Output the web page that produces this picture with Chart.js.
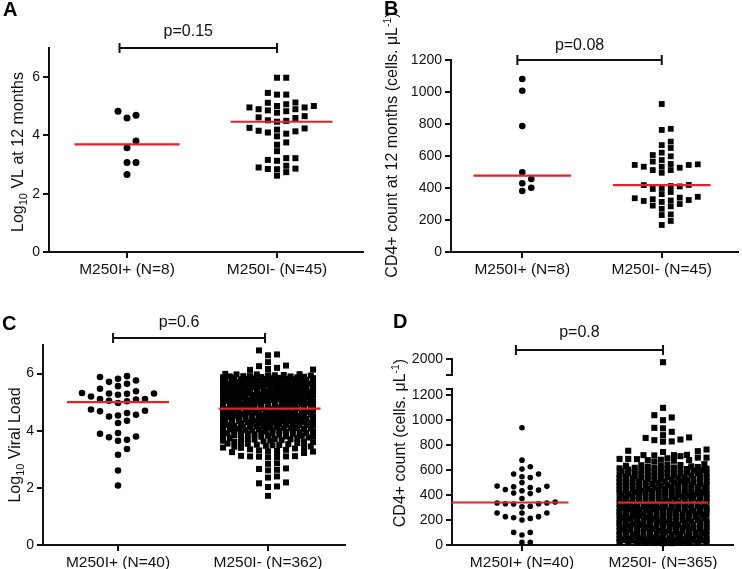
<!DOCTYPE html>
<html><head><meta charset="utf-8">
<script src="https://cdn.jsdelivr.net/npm/chart.js@4"></script>
<style>
html,body{margin:0;padding:0;background:#fff;}
#wrap{position:relative;width:742px;height:569px;overflow:hidden;background:#fff;}
canvas{position:absolute;}
</style></head><body>
<div id="wrap">
<canvas id="cA" width="371" height="285" style="left:0px;top:0px;width:371px;height:285px"></canvas>
<canvas id="cB" width="371" height="285" style="left:371px;top:0px;width:371px;height:285px"></canvas>
<canvas id="cC" width="371" height="284" style="left:0px;top:285px;width:371px;height:284px"></canvas>
<canvas id="cD" width="371" height="284" style="left:371px;top:285px;width:371px;height:284px"></canvas>
</div>
<script>
// ---------------- DATA ----------------
const catsA = ['M250I+ (N=8)', 'M250I- (N=45)'];
const catsB = ['M250I+ (N=8)', 'M250I- (N=45)'];
const catsC = ['M250I+ (N=40)', 'M250I- (N=362)'];
const catsD = ['M250I+ (N=40)', 'M250I- (N=365)'];

const pvalA = 'p=0.15', pvalB = 'p=0.08', pvalC = 'p=0.6', pvalD = 'p=0.8';

const yTicksA = [0, 2, 4, 6];
const yTicksB = [0, 200, 400, 600, 800, 1000, 1200];
const yTicksC = [0, 2, 4, 6];
const yTicksDLow = [0, 200, 400, 600, 800, 1000, 1200];
const yTicksDHigh = [2000];

// A: Log10 VL at 12 months
const vlPosA = [4.83, 4.69, 4.60, 3.81, 3.58, 3.07, 3.07, 2.66];
const vlNegA = [5.98, 5.98, 5.40, 5.46, 5.40, 5.12, 5.13, 5.07, 5.01, 4.96, 4.90,
  4.78, 4.83, 4.86, 4.90, 4.96, 5.01, 4.66, 4.60, 4.52, 4.47, 4.50, 4.62,
  4.24, 4.16, 4.10, 4.06, 4.14, 4.20, 4.26, 3.97, 3.76, 3.68, 3.46,
  3.22, 3.13, 3.16, 3.22, 2.90, 2.85, 2.96, 2.84, 2.86, 2.62, 2.74];

// B: CD4+ count at 12 months
const cd4PosB = [1081, 1008, 787, 498, 456, 429, 402, 381];
const cd4NegB = [925, 770, 763, 690, 668, 650, 621, 606, 575, 565, 598, 548, 544, 533, 527,
  544, 512, 495, 512, 533, 550, 418, 419, 412, 410, 400, 394, 375, 362, 340, 325, 313,
  319, 300, 345, 336, 330, 322, 290, 285, 270, 235, 231, 194, 169];

// C: Log10 viral load
const vlPosC = [5.88, 5.76, 5.82, 5.91, 5.56, 5.64, 5.71, 5.38, 5.47, 5.29, 5.20, 5.30, 5.30,
  5.32, 5.26, 5.11, 5.05, 5.03, 4.97, 5.09, 5.11, 4.74, 4.70, 4.62, 4.68, 4.56, 4.50, 4.53,
  4.27, 4.35, 3.92, 3.80, 3.68, 3.65, 3.77, 3.89, 3.36, 3.16, 2.61, 2.08];
const vlNegC = [
  6.81, 6.67, 6.64, 6.40, 6.28, 6.26, 6.20, 6.16, 6.14, 6.13,
  5.99, 5.98, 5.97, 5.97, 5.95, 5.94, 5.94, 5.93, 5.91, 5.91, 5.90, 5.90,
  5.89, 5.88, 5.87, 5.87, 5.86, 5.85, 5.84, 5.84, 5.83, 5.82, 5.82, 5.81, 5.80, 5.80,
  5.79, 5.78, 5.78, 5.77, 5.76, 5.75, 5.75, 5.74, 5.73, 5.72, 5.72, 5.71, 5.70, 5.70,
  5.69, 5.68, 5.68, 5.67, 5.66, 5.65, 5.65, 5.64, 5.63, 5.62, 5.62, 5.61, 5.60, 5.60,
  5.59, 5.58, 5.58, 5.57, 5.56, 5.56, 5.55, 5.54, 5.54, 5.53, 5.52, 5.52, 5.51, 5.50, 5.50,
  5.49, 5.48, 5.48, 5.47, 5.46, 5.46, 5.45, 5.44, 5.43, 5.43, 5.42, 5.41, 5.41, 5.40, 5.40,
  5.39, 5.38, 5.38, 5.37, 5.36, 5.35, 5.35, 5.34, 5.33, 5.33, 5.32, 5.31, 5.31, 5.30, 5.30,
  5.29, 5.28, 5.28, 5.27, 5.26, 5.26, 5.25, 5.24, 5.23, 5.23, 5.22, 5.21, 5.21, 5.20, 5.20,
  5.19, 5.18, 5.17, 5.17, 5.16, 5.15, 5.14, 5.14, 5.13, 5.12, 5.12, 5.11, 5.10, 5.10,
  5.09, 5.08, 5.08, 5.07, 5.06, 5.06, 5.05, 5.04, 5.03, 5.03, 5.02, 5.01, 5.01, 5.00, 5.00,
  4.99, 4.98, 4.97, 4.97, 4.96, 4.95, 4.94, 4.94, 4.93, 4.92, 4.91, 4.91, 4.90, 4.90,
  4.89, 4.88, 4.87, 4.86, 4.86, 4.85, 4.84, 4.83, 4.82, 4.81, 4.80, 4.80, 4.79, 4.78,
  4.77, 4.76, 4.76, 4.74, 4.73, 4.72, 4.72, 4.71, 4.70, 4.70,
  4.69, 4.68, 4.67, 4.67, 4.66, 4.65, 4.64, 4.63, 4.63, 4.62, 4.61, 4.61, 4.60, 4.60,
  4.59, 4.58, 4.57, 4.56, 4.56, 4.55, 4.54, 4.53, 4.53, 4.52, 4.51, 4.51, 4.50, 4.50,
  4.49, 4.48, 4.47, 4.47, 4.46, 4.45, 4.44, 4.43, 4.42, 4.42, 4.41, 4.41, 4.40, 4.40,
  4.39, 4.38, 4.37, 4.36, 4.36, 4.35, 4.34, 4.33, 4.32, 4.32, 4.31, 4.30, 4.30,
  4.29, 4.28, 4.27, 4.26, 4.26, 4.25, 4.24, 4.23, 4.22, 4.21, 4.21, 4.20, 4.20,
  4.19, 4.18, 4.17, 4.16, 4.15, 4.14, 4.14, 4.13, 4.12, 4.11, 4.10, 4.10,
  4.09, 4.08, 4.07, 4.06, 4.05, 4.04, 4.04, 4.03, 4.02, 4.01, 4.00, 4.00,
  3.99, 3.98, 3.97, 3.96, 3.95, 3.94, 3.93, 3.92, 3.91, 3.90, 3.90,
  3.89, 3.88, 3.86, 3.85, 3.84, 3.83, 3.82, 3.81, 3.80,
  3.79, 3.77, 3.76, 3.75, 3.74, 3.72, 3.71, 3.70,
  3.69, 3.67, 3.66, 3.65, 3.63, 3.62, 3.61, 3.60,
  3.58, 3.57, 3.55, 3.54, 3.53, 3.51, 3.50,
  3.49, 3.47, 3.45, 3.44, 3.43, 3.41, 3.40,
  3.38, 3.35, 3.33, 3.31, 3.29, 3.28, 3.27, 3.25, 3.22,
  3.12, 3.10, 3.09, 3.08, 3.10, 3.07, 3.11, 2.86, 2.84, 2.68, 2.66, 2.63, 2.61,
  2.40, 2.36, 2.19, 2.16, 2.05, 2.03, 1.72];

// D: CD4+ count
const cd4PosD = [939, 680, 627, 608, 568, 547, 541, 568, 501, 467, 445, 472, 435, 461, 470, 417,
  440, 412, 373, 345, 336, 328, 307, 330, 336, 310, 330, 256, 227, 213, 200, 218, 227, 256, 256,
  101, 80, 101, 22, 22];
const cd4NegD = [
  1960,
  1099, 1040, 1022, 1000, 939, 935, 907, 880, 862, 858, 845, 840, 830, 828,
  765, 755, 752, 745, 722, 720, 720, 718, 712,
  700, 700, 695, 690, 690, 688, 683, 680, 680, 675, 668,
  648, 644, 641, 639, 635, 633, 630, 628, 625, 621, 619, 617, 614, 611, 609, 606, 605, 603, 601, 600,
  598, 595, 594, 591, 588, 586, 583, 582, 579, 576, 575, 572, 569, 567, 566, 563, 560, 558, 556, 553, 552, 550,
  549, 546, 545, 542, 540, 538, 535, 534, 531, 530, 527, 524, 523, 520, 518, 516, 514, 511, 510, 507, 505, 504, 501, 500,
  499, 496, 495, 493, 490, 489, 486, 485, 482, 480, 479, 476, 475, 473, 470, 469, 466, 465, 462, 460, 459, 456, 455, 452, 450,
  449, 447, 444, 443, 441, 440, 437, 436, 434, 432, 431, 428, 427, 425, 423, 421, 420, 418, 416, 414, 413, 410, 409, 407, 405, 403, 401,
  400, 398, 395, 394, 392, 390, 387, 386, 384, 381, 380, 378, 375, 374, 372, 370, 367, 366, 364, 361, 360, 358, 355, 353, 351, 348, 346, 343, 341,
  339, 336, 335, 333, 330, 329, 326, 325, 322, 320, 319, 316, 315, 312, 310, 309, 306, 305, 303, 302, 301, 300,
  298, 297, 294, 293, 290, 289, 287, 285, 283, 281, 279, 277, 276, 274, 272, 270, 268, 267, 264, 263, 261, 259, 257, 256, 254, 252, 251, 250,
  248, 246, 244, 243, 240, 239, 237, 235, 233, 232, 229, 228, 226, 224, 222, 220, 219, 217, 215, 213, 211, 210, 208, 206, 204, 203, 201, 200,
  198, 196, 193, 192, 190, 188, 186, 185, 182, 180, 179, 177, 175, 173, 171, 170, 168, 165, 164, 162, 160, 158, 157, 155, 153, 151, 150,
  148, 145, 144, 141, 140, 138, 135, 134, 131, 130, 128, 126, 124, 122, 120, 118, 116, 113, 112, 110, 108, 106, 104, 102, 101, 100,
  98, 95, 93, 91, 88, 86, 85, 82, 80, 78, 75, 74, 71, 69, 67, 64, 63, 61, 58, 56, 55, 53, 51, 50,
  48, 47, 45, 44, 42, 41, 39, 38, 36, 35, 34, 32, 31, 30, 28, 27, 26, 25, 24, 22, 21, 20, 19, 18, 17, 16, 15, 14];

// ---------------- HELPERS ----------------
const FONT = '"Liberation Sans", Arial, Helvetica, sans-serif';
const RED = '#e2232a';

function median(arr) {
  const s = arr.slice().sort((a, b) => a - b);
  const n = s.length;
  return n % 2 ? s[(n - 1) / 2] : (s[n / 2 - 1] + s[n / 2]) / 2;
}

// beeswarm layout (pixel offsets) computed from the values via the chart's y scale
function swarmOffsets(vals, yScale, sp, h, maxK) {
  const n = vals.length;
  const idx = vals.map((v, i) => i).sort((a, b) => vals[a] - vals[b]);
  const full = [0];
  for (let k = 1; k <= maxK; k++) full.push(k, -k);
  const fine = [];
  for (let k = -maxK; k <= maxK + 1e-9; k += 0.25) fine.push(k);
  fine.sort((a, b) => Math.abs(a) - Math.abs(b));
  const placed = [];
  const off = new Array(n).fill(0);
  for (const i of idx) {
    const py = yScale.getPixelForValue(vals[i]);
    const near = [];
    for (let j = placed.length - 1; j >= 0; j--) {
      const p = placed[j];
      if (p.py - py >= h) break;
      near.push(p);
    }
    const free = c => {
      const px = c * sp;
      for (const p of near) {
        if (Math.abs(p.px - px) < sp * 0.999 && Math.abs(p.py - py) < h * 0.999) return false;
      }
      return true;
    };
    const overlap = c => {
      const px = c * sp; let s = 0;
      for (const p of near) {
        s += Math.max(0, h - Math.abs(p.px - px)) * Math.max(0, h - Math.abs(p.py - py));
      }
      return s;
    };
    let chosen = null;
    for (const c of full) { if (free(c)) { chosen = c; break; } }
    if (chosen === null) {
      let best = Infinity;
      for (const c of fine) { const s = overlap(c); if (s < best - 1e-9) { best = s; chosen = c; } }
    }
    off[i] = chosen * sp;
    placed.push({ px: chosen * sp, py });
  }
  return off;
}

const decor = {
  id: 'decor',
  afterDraw(chart, args, o) {
    const ctx = chart.ctx, xs = chart.scales.x, area = chart.chartArea;
    ctx.save();
    ctx.fillStyle = '#000';
    ctx.font = 'bold 20px ' + FONT;
    ctx.textAlign = 'left'; ctx.textBaseline = 'alphabetic';
    ctx.fillText(o.letter, o.letterX, o.letterY);
    const x1 = xs.getPixelForValue(o.br[0]), x2 = xs.getPixelForValue(o.br[1]);
    const y = area.top + o.brDy;
    ctx.strokeStyle = '#111'; ctx.lineWidth = 2;
    ctx.beginPath();
    ctx.moveTo(x1, y); ctx.lineTo(x2, y);
    ctx.moveTo(x1, y - 5); ctx.lineTo(x1, y + 5);
    ctx.moveTo(x2, y - 5); ctx.lineTo(x2, y + 5);
    ctx.stroke();
    ctx.font = '16px ' + FONT; ctx.textAlign = 'center';
    ctx.fillStyle = '#111';
    ctx.fillText(o.p, (x1 + x2) / 2 - 10, y + o.pDy);
    if (o.breakScales) {
      const yl = chart.scales.yLow, yh = chart.scales.yHigh;
      const ax = area.left;
      ctx.beginPath();
      ctx.moveTo(ax - 6, yh.bottom); ctx.lineTo(ax + 1, yh.bottom);
      ctx.moveTo(ax - 6, yl.top); ctx.lineTo(ax + 1, yl.top);
      ctx.stroke();
    }
    ctx.translate(o.titleX, o.titleY);
    ctx.rotate(-Math.PI / 2);
    ctx.textAlign = 'left'; ctx.textBaseline = 'alphabetic';
    let total = 0;
    o.title.forEach(p => { ctx.font = p.s + 'px ' + FONT; p.w = ctx.measureText(p.t).width; total += p.w; });
    let x = -total / 2;
    o.title.forEach(p => { ctx.font = p.s + 'px ' + FONT; ctx.fillText(p.t, x, 5.5 + (p.dy || 0)); x += p.w; });
    ctx.restore();
  }
};

function tickGrid() {
  return { display: true, drawOnChartArea: false, drawTicks: true, tickLength: 6,
    tickColor: '#111', tickWidth: 2, lineWidth: 2, color: '#111' };
}
function border() { return { display: true, color: '#111', width: 2 }; }

function buildChart(P) {
  const cv = document.getElementById(P.id);
  const W = cv.width, H = cv.height;
  const yBase = (ticks) => ({
    type: 'linear', position: 'left',
    grid: tickGrid(), border: border(),
    ticks: { font: { family: FONT, size: 14 }, color: '#111', padding: 3, autoSkip: false,
      callback: v => String(v) },
    afterBuildTicks: s => { s.ticks = ticks.map(v => ({ value: v })); },
    afterFit: s => { s.width = P.area.left; }
  });
  const scales = {
    x: {
      type: 'linear', min: P.xMin, max: P.xMax,
      afterBuildTicks: s => { s.ticks = [{ value: 1 }, { value: 2 }]; },
      ticks: { callback: v => (v === 1 ? P.cats[0] : (v === 2 ? P.cats[1] : '')),
        font: { family: FONT, size: 15.5 }, color: '#111', padding: 2, maxRotation: 0, autoSkip: false },
      grid: tickGrid(), border: border(),
      afterFit: s => { s.height = H - P.area.bottom; }
    }
  };
  let lowId = 'y';
  if (P.broken) {
    lowId = 'yLow';
    scales.yLow = Object.assign(yBase(P.yTicks), { min: 0, max: P.lowMax, stack: 'v', stackWeight: P.weights[2] });
    scales.yGap = { type: 'linear', position: 'left', stack: 'v', stackWeight: P.weights[1], min: 0, max: 1,
      grid: { display: false }, border: { display: false }, ticks: { display: false },
      afterFit: s => { s.width = P.area.left; } };
    scales.yHigh = Object.assign(yBase(P.yTicksHigh), { min: P.highMin, max: P.highMax, stack: 'v', stackWeight: P.weights[0] });
  } else {
    scales.y = Object.assign(yBase(P.yTicks), { min: 0, max: P.yMax });
  }
  const lowMax = P.broken ? P.lowMax : Infinity;
  const negLow = P.neg.filter(v => v <= lowMax);
  const negHigh = P.neg.filter(v => v > lowMax);
  const mPos = median(P.pos), mNeg = median(P.neg);
  const ptDs = (vals, center, style, r, yId) => ({
    type: 'scatter', data: vals.map(v => ({ x: center, y: v })), yAxisID: yId,
    pointStyle: style, pointRadius: r, pointHoverRadius: r, pointBackgroundColor: '#000',
    pointBorderWidth: 0, backgroundColor: '#000', borderColor: '#000', clip: false, order: 2
  });
  const medDs = (m, center, span) => ({
    type: 'line', data: [{ x: center + span[0], y: m }, { x: center + span[1], y: m }], yAxisID: lowId,
    borderColor: RED, borderWidth: 2.2, pointRadius: 0, showLine: true, clip: false, order: 0
  });
  const datasets = [
    ptDs(P.pos, 1, 'circle', P.posR, lowId),
    ptDs(negLow, 2, 'rect', P.negR, lowId),
    medDs(mPos, 1, P.span1),
    medDs(mNeg, 2, P.span2)
  ];
  if (P.broken) datasets.push(ptDs(negHigh, 2, 'rect', P.negR, 'yHigh'));
  const chart = new Chart(cv, {
    type: 'scatter',
    data: { datasets },
    options: {
      responsive: false, animation: false, devicePixelRatio: 1,
      layout: { padding: { left: 0, top: P.area.top, right: W - P.area.right, bottom: 0 } },
      scales,
      plugins: { legend: { display: false }, tooltip: { enabled: false }, decor: P.decor },
      events: []
    },
    plugins: [decor]
  });
  const xs = chart.scales.x, ys = chart.scales[lowId];
  const ppu = xs.getPixelForValue(2) - xs.getPixelForValue(1);
  const place = (vals, center, sp, h) => {
    const off = swarmOffsets(vals, ys, sp, h, 5);
    return vals.map((v, i) => ({ x: center + off[i] / ppu, y: v }));
  };
  chart.data.datasets[0].data = place(P.pos, 1, P.posSp, P.posH);
  chart.data.datasets[1].data = place(negLow, 2, P.negSp, P.negH);
  chart.update('none');
  return chart;
}

const sub10 = [{ t: 'Log', s: 16 }, { t: '10', s: 11, dy: 4 }];

buildChart({
  id: 'cA', cats: catsA, pos: vlPosA, neg: vlNegA, yTicks: yTicksA, yMax: 7,
  area: { left: 49, top: 48, right: 363, bottom: 252 }, xMin: 0.48, xMax: 2.573,
  posR: 3.5, posSp: 9, posH: 7, negR: 4.25, negSp: 9.2, negH: 6,
  span1: [-0.35, 0.35], span2: [-0.31, 0.37],
  decor: { letter: 'A', letterX: 3, letterY: 16, br: [0.95, 2.0], brDy: 0, p: pvalA, pDy: -12,
    titleX: 17, titleY: 152, title: sub10.concat([{ t: ' VL at 12 months', s: 16 }]) }
});
buildChart({
  id: 'cB', cats: catsB, pos: cd4PosB, neg: cd4NegB, yTicks: yTicksB, yMax: 1200,
  area: { left: 80, top: 60, right: 370, bottom: 252 }, xMin: 0.489, xMax: 2.546,
  posR: 3.3, posSp: 9, posH: 7, negR: 4.1, negSp: 9, negH: 5.8,
  span1: [-0.35, 0.35], span2: [-0.35, 0.35],
  decor: { letter: 'B', letterX: 13, letterY: 15, br: [0.965, 2.0], brDy: 0, p: pvalB, pDy: -10,
    titleX: 20, titleY: 145,
    title: [{ t: 'CD4+ count at 12 months (cells. \u03bcL', s: 16 }, { t: '-1', s: 10.5, dy: -6 }, { t: ')', s: 16 }] }
});
buildChart({
  id: 'cC', cats: catsC, pos: vlPosC, neg: vlNegC, yTicks: yTicksC, yMax: 7,
  area: { left: 43, top: 60, right: 345, bottom: 260 }, xMin: 0.5, xMax: 2.513,
  posR: 3.3, posSp: 9, posH: 7, negR: 4.24, negSp: 9, negH: 6,
  span1: [-0.34, 0.34], span2: [-0.33, 0.35],
  decor: { letter: 'C', letterX: 2, letterY: 45, br: [0.967, 1.98], brDy: -7, p: pvalC, pDy: -11,
    titleX: 14, titleY: 160, title: sub10.concat([{ t: ' Viral Load', s: 16 }]) }
});
buildChart({
  id: 'cD', cats: catsD, pos: cd4PosD, neg: cd4NegD, yTicks: yTicksDLow, yTicksHigh: yTicksDHigh,
  broken: true, lowMax: 1250, highMin: 1800, highMax: 2000, weights: [16, 14, 156],
  area: { left: 81, top: 74, right: 362, bottom: 260 }, xMin: 0.504, xMax: 2.496,
  posR: 2.8, posSp: 8.3, posH: 5.6, negR: 4.3, negSp: 8.7, negH: 6,
  span1: [-0.5, 0.33], span2: [-0.32, 0.32],
  decor: { letter: 'D', letterX: 22, letterY: 43, br: [0.957, 2.0], brDy: -9, p: pvalD, pDy: -13,
    breakScales: true, titleX: 28, titleY: 158,
    title: [{ t: 'CD4+ count (cells. \u03bcL', s: 16 }, { t: '-1', s: 10.5, dy: -6 }, { t: ')', s: 16 }] }
});
</script>
</body></html>
